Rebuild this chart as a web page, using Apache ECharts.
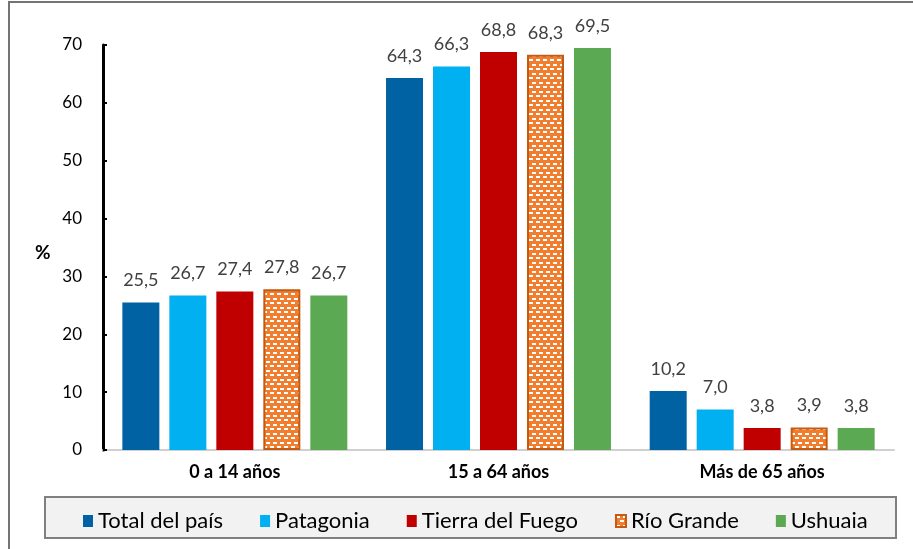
<!DOCTYPE html>
<html>
<head>
<meta charset="utf-8">
<script src="https://cdn.jsdelivr.net/npm/echarts@6/dist/echarts.min.js"></script>
<style>
  html, body { margin: 0; padding: 0; background: #fff; }
  #chart { position: absolute; left: 0; top: 0; width: 913px; height: 549px; }
  .frame {
    position: absolute; left: 8px; top: 1px; width: 1000px; height: 1000px;
    border: 2px solid #787373; pointer-events: none;
  }
</style>
</head>
<body>
<div id="chart"></div>
<div class="frame"></div>
<script>
const categories = ['0 a 14 años', '15 a 64 años', 'Más de 65 años']
const seriesNames = ['Total del país', 'Patagonia', 'Tierra del Fuego', 'Río Grande', 'Ushuaia']
const totalPais = [25.5, 64.3, 10.2]
const patagonia = [26.7, 66.3, 7.0]
const tierraFuego = [27.4, 68.8, 3.8]
const rioGrande = [27.8, 68.3, 3.9]
const ushuaia = [26.7, 69.5, 3.8]
const yMin = 0
const yMax = 70
const yStep = 10

const FONT = 'Lato, "Noto Sans", sans-serif'

// brick-like dotted fill for Río Grande
function brickPattern() {
  const c = document.createElement('canvas')
  c.width = 7
  c.height = 9
  const ctx = c.getContext('2d')
  ctx.fillStyle = '#F07E2E'
  ctx.fillRect(0, 0, 7, 9)
  ctx.fillStyle = '#ffffff'
  ctx.fillRect(0, 1, 4, 2)
  ctx.fillRect(4, 5, 3, 2)
  ctx.fillRect(0, 5, 1, 2)
  return c
}

const fmt = v => v.toFixed(1).replace('.', ',')

function barSeries(name, data, color, extra) {
  return Object.assign({
    name,
    type: 'bar',
    data,
    barWidth: 37,
    barGap: '27%',
    itemStyle: { color },
    label: {
      show: true,
      position: 'top',
      distance: 13,
      color: '#404040',
      fontSize: 18,
      fontFamily: FONT,
      formatter: p => fmt(p.value),
    },
  }, extra || {})
}

const chart = echarts.init(document.getElementById('chart'), null, { renderer: 'canvas' })

chart.setOption({
  animation: false,
  title: {
    text: '%',
    left: 30,
    top: 238,
    textStyle: { fontSize: 19, fontWeight: 'bold', color: '#000', fontFamily: FONT },
  },
  graphic: [
    {
      type: 'rect',
      z: -1,
      shape: { x: 45, y: 497, width: 851, height: 41 },
      style: { fill: '#f2f2f2', stroke: '#808080', lineWidth: 2 },
    },
  ],
  legend: {
    left: 78,
    top: 505,
    itemWidth: 10,
    itemHeight: 12,
    itemGap: 37,
    icon: 'rect',
    textStyle: { fontSize: 22, color: '#000', fontFamily: FONT },
    data: seriesNames,
  },
  grid: { left: 103, right: 19, top: 45, bottom: 99 },
  xAxis: {
    type: 'category',
    data: categories,
    axisLine: { lineStyle: { color: '#d0d0d0', width: 2 } },
    axisTick: { show: false },
    axisLabel: {
      color: '#000',
      fontSize: 18,
      fontWeight: 'bold',
      fontFamily: FONT,
      margin: 13,
    },
  },
  yAxis: {
    type: 'value',
    min: yMin,
    max: yMax,
    interval: yStep,
    axisLine: { show: true, lineStyle: { color: '#000', width: 3 } },
    axisTick: { show: true, inside: true, length: 4, lineStyle: { color: '#000', width: 2 } },
    splitLine: { show: false },
    axisLabel: { color: '#000', fontSize: 17, fontFamily: FONT, margin: 21 },
  },
  series: [
    barSeries(seriesNames[0], totalPais, '#0062A2'),
    barSeries(seriesNames[1], patagonia, '#00B0F0'),
    barSeries(seriesNames[2], tierraFuego, '#C00000'),
    barSeries(seriesNames[3], rioGrande, null, {
      itemStyle: {
        color: { image: brickPattern(), repeat: 'repeat' },
        borderColor: '#C55A11',
        borderWidth: 2,
      },
    }),
    barSeries(seriesNames[4], ushuaia, '#5BAA53'),
  ],
})
</script>
</body>
</html>
